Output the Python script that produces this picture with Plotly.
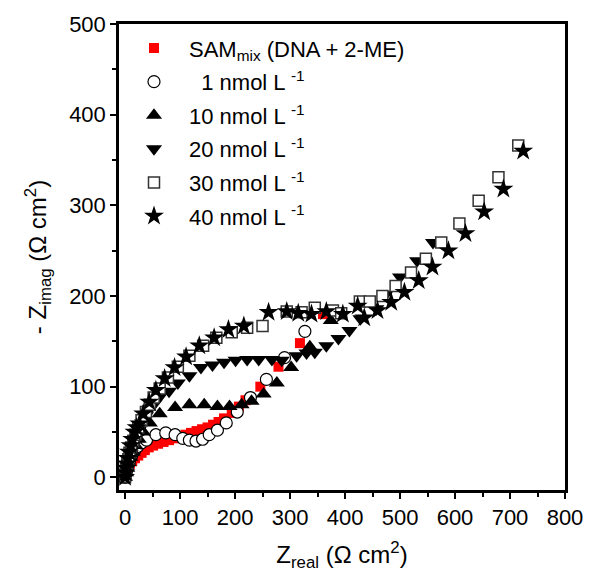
import plotly.graph_objects as go

# ---- data ----
sam_x = [0,1,2,4,6,9,13,18,24,30,36,43,51,60,70,80,90,100,110,120,130,140,150,160,170,180,194,207,219,246,279,318,360]
sam_y = [0,3,6,9,12,15,18,21,24,27,30,33,35,37,39,41,43,45,47,49,51,53,55,58,61,65,71,78,85,100,122,148,180]

c1_x = [0,1,3,5,8,12,17,23,30,39,56,74,91,105,117,129,141,153,168,184,204,228,257,290,327]
c1_y = [0,4,8,13,18,24,29,34,38,41,47,49,47,43,41,40,42,47,52,60,72,88,108,132,161]

c10_x = [0,2,4,7,10,14,19,25,33,45,63,91,117,144,168,190,212,230,252,276,302,336,374]
c10_y = [0,5,10,16,22,28,35,42,50,60,70,77,80,80,78,78,80,84,92,104,121,144,173]

c20_x = [0,2,4,7,10,14,19,25,31,38,46,54,62,80,96,117,138,159,180,201,222,243,267,285,312,330,345,366,388,408,428,457,474,500,531,560]
c20_y = [0,5,11,18,26,34,43,52,60,68,76,82,88,95,104,112,121,124,127,129,130,130,130,129,134,137,138,145,153,162,175,186,202,221,239,259]

c30_x = [0,1,2,4,6,8,11,15,19,24,30,38,45,52,63,78,96,117,142,166,194,222,250,294,321,345,378,393,427,445,468,492,520,547,575,608,643,679,715]
c30_y = [0,4,9,14,20,27,33,40,47,55,63,72,80,88,98,110,122,134,145,154,160,165,167,183,182,187,184,181,194,194,200,211,226,241,259,280,305,331,366]

c40_x = [0,1,2,3,5,7,10,13,17,21,26,33,44,56,72,90,111,135,162,188,216,261,294,315,339,366,396,423,435,459,484,508,534,559,588,619,653,688,724]
c40_y = [0,5,10,15,21,28,35,42,50,55,59,70,83,96,109,121,133,145,154,163,167,182,183,181,180,183,180,189,176,184,193,204,217,232,250,269,293,318,360]

names = [
    "SAM<sub>mix</sub> (DNA + 2-ME)",
    "\u00a0\u00a01 nmol L <sup>-1</sup>",
    "10 nmol L <sup>-1</sup>",
    "20 nmol L <sup>-1</sup>",
    "30 nmol L <sup>-1</sup>",
    "40 nmol L <sup>-1</sup>",
]

x_ticks = [0, 100, 200, 300, 400, 500, 600, 700, 800]
y_ticks = [0, 100, 200, 300, 400, 500]

FONT = "Arial, Liberation Sans, sans-serif"

series = [
    (sam_x, sam_y, dict(symbol="square", size=10, color="#ff0000", line=dict(width=0))),
    (c1_x, c1_y, dict(symbol="circle", size=12, color="white", line=dict(width=1.2, color="black"))),
    (c10_x, c10_y, dict(symbol="triangle-up", size=14, color="black", line=dict(width=0))),
    (c20_x, c20_y, dict(symbol="triangle-down", size=14, color="black", line=dict(width=0))),
    (c30_x, c30_y, dict(symbol="square", size=11, color="white", line=dict(width=1.5, color="#333333"))),
    (c40_x, c40_y, dict(symbol="star", size=15, color="black", line=dict(width=0))),
]

fig = go.Figure()
for i, ((xs, ys, mk), nm) in enumerate(zip(series, names)):
    fig.add_trace(go.Scatter(x=xs, y=ys, mode="markers", marker=mk, name=nm,
                             legendgroup=f"g{i}"))

axis_common = dict(
    showline=True, linewidth=2.5, linecolor="black", mirror=True,
    ticks="outside", ticklen=6, tickwidth=2, tickcolor="black",
    showgrid=False, zeroline=False,
    tickfont=dict(family=FONT, size=22, color="black"),
)

fig.update_xaxes(range=[-11, 800], tickvals=x_ticks,
                 minor=dict(ticks="outside", ticklen=4, tickwidth=2, dtick=50, tick0=0, tickcolor="black"),
                 title=dict(text="Z<sub>real</sub> (\u03a9 cm<sup>2</sup>)",
                            font=dict(family=FONT, size=24, color="black"), standoff=18),
                 **axis_common)
fig.update_yaxes(range=[-14, 500], tickvals=y_ticks,
                 minor=dict(ticks="outside", ticklen=4, tickwidth=2, dtick=50, tick0=0, tickcolor="black"),
                 title=dict(text="- Z<sub>imag</sub> (\u03a9 cm<sup>2</sup>)",
                            font=dict(family=FONT, size=24, color="black"), standoff=16),
                 **axis_common)

fig.update_layout(
    width=595, height=578,
    margin=dict(l=119, r=24, t=22, b=88),
    plot_bgcolor="white", paper_bgcolor="white",
    font=dict(family=FONT, color="black"),
    legend=dict(x=0.0, y=0.993, xanchor="left", yanchor="top",
                bgcolor="rgba(0,0,0,0)", borderwidth=0,
                font=dict(family=FONT, size=22, color="black"),
                itemwidth=60, traceorder="grouped", tracegroupgap=2),
    showlegend=True,
)

fig.write_html("out.html")
